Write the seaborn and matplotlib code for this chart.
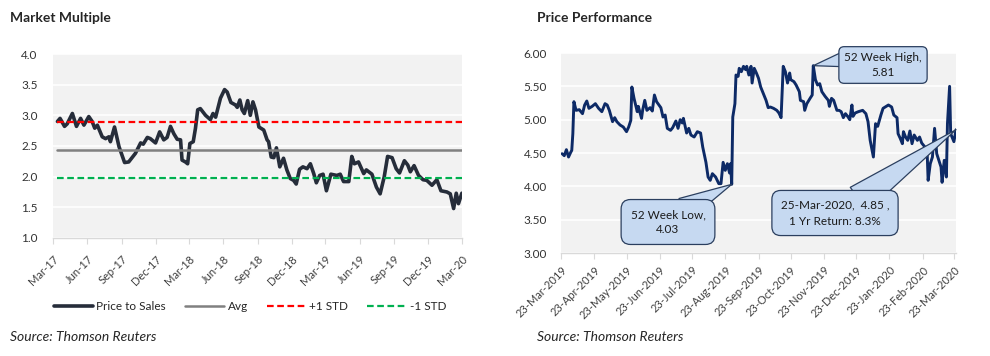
import pandas as pd
import matplotlib
matplotlib.use("Agg")
import matplotlib.pyplot as plt
import matplotlib.dates as mdates
import seaborn as sns

# Market multiple: price to sales, day offsets from 1-Mar-2017
ps_start = "2017-03-01"
ps_days = [12, 19, 31, 38, 52, 63, 74, 83, 96, 105,
           112, 119, 132, 141, 150, 154, 165, 177, 192, 203,
           221, 235, 242, 253, 261, 275, 286, 297, 306, 315,
           324, 333, 342, 346, 355, 361, 367, 376, 382, 388,
           395, 409, 422, 429, 436, 449, 460, 467, 477, 489,
           494, 501, 507, 513, 522, 529, 536, 543, 552, 565,
           574, 578, 585, 592, 599, 608, 618, 627, 636, 645,
           652, 661, 670, 681, 690, 699, 706, 715, 724, 733,
           745, 761, 770, 779, 793, 801, 808, 819, 833, 840,
           855, 867, 877, 888, 897, 909, 920, 929, 942, 951,
           958, 968, 980, 992, 1002, 1016, 1029, 1040, 1056, 1065,
           1074, 1081, 1087, 1096]
ps_vals = [2.90, 2.95, 2.82, 2.86, 3.03, 2.82, 2.95, 2.84, 2.98, 2.90,
           2.79, 2.84, 2.65, 2.62, 2.65, 2.57, 2.81, 2.49, 2.23, 2.24,
           2.38, 2.55, 2.53, 2.64, 2.62, 2.55, 2.73, 2.60, 2.64, 2.82,
           2.70, 2.61, 2.60, 2.27, 2.24, 2.21, 2.54, 2.57, 2.79, 3.09,
           3.11, 3.00, 2.93, 3.03, 2.97, 3.28, 3.42, 3.38, 3.21, 3.17,
           3.13, 3.25, 3.09, 3.03, 3.24, 3.00, 3.22, 3.09, 2.81, 2.76,
           2.60, 2.57, 2.32, 2.31, 2.47, 2.16, 2.30, 2.11, 1.97, 1.94,
           1.88, 2.12, 2.16, 2.13, 2.21, 2.05, 1.90, 2.02, 2.04, 1.77,
           2.04, 2.02, 2.04, 1.92, 1.92, 2.33, 2.21, 2.24, 2.05, 2.11,
           2.04, 1.83, 1.72, 2.00, 2.33, 2.31, 2.13, 2.06, 2.26, 2.19,
           2.08, 2.18, 2.02, 1.95, 1.94, 1.86, 1.95, 1.77, 1.75, 1.72,
           1.48, 1.73, 1.56, 1.73]
ps_avg = 2.43
ps_plus_std = 2.885
ps_minus_std = 1.975

# Price performance, day offsets from 23-Mar-2019
px_start = "2019-03-23"
px_days = [1, 3, 5, 7, 9, 10, 11, 12, 14, 17,
           20, 22, 24, 26, 29, 32, 35, 38, 41, 43,
           45, 48, 50, 52, 55, 58, 61, 63, 65, 66,
           68, 71, 72, 75, 76, 78, 80, 83, 85, 87,
           89, 93, 95, 97, 99, 102, 104, 107, 109, 111,
           113, 114, 117, 119, 121, 124, 127, 130, 132, 135,
           137, 139, 141, 144, 147, 149, 151, 153, 155, 157,
           158, 159, 160, 162, 163, 165, 166, 168, 170, 172,
           173, 175, 177, 178, 180, 182, 184, 186, 189, 191,
           193, 195, 198, 201, 203, 205, 207, 209, 211, 213,
           214, 217, 219, 222, 223, 226, 227, 229, 232, 234,
           235, 237, 239, 241, 243, 246, 249, 250, 252, 254,
           257, 259, 261, 263, 265, 267, 269, 271, 272, 274,
           277, 281, 284, 286, 288, 291, 293, 295, 298, 300,
           303, 305, 308, 310, 313, 314, 316, 318, 319, 321,
           323, 325, 327, 329, 332, 334, 336, 339, 341, 342,
           344, 346, 348, 350, 352, 354, 355, 357, 359, 360,
           362, 363, 366, 368]
px_vals = [4.49, 4.46, 4.55, 4.44, 4.51, 4.54, 4.79, 5.27, 5.14, 5.15,
           5.09, 5.22, 5.28, 5.17, 5.20, 5.24, 5.17, 5.12, 5.24, 5.22,
           5.14, 4.97, 5.03, 4.97, 4.92, 4.89, 4.82, 4.89, 4.99, 5.49,
           5.32, 5.12, 5.20, 5.02, 5.14, 5.29, 5.14, 5.18, 5.13, 5.37,
           5.27, 5.18, 5.04, 5.07, 4.87, 4.84, 4.88, 4.98, 4.87, 5.00,
           4.95, 5.02, 4.80, 4.87, 4.77, 4.74, 4.82, 4.80, 4.59, 4.36,
           4.14, 4.09, 4.19, 4.14, 4.04, 4.04, 4.36, 4.24, 4.34, 4.20,
           4.34, 4.03, 5.04, 5.24, 5.67, 5.65, 5.77, 5.72, 5.80, 5.75,
           5.80, 5.67, 5.80, 5.55, 5.77, 5.70, 5.62, 5.49, 5.37, 5.29,
           5.18, 5.19, 5.17, 5.14, 5.10, 5.03, 5.80, 5.72, 5.55, 5.70,
           5.60, 5.57, 5.52, 5.42, 5.29, 5.27, 5.14, 5.24, 5.32, 5.37,
           5.81, 5.60, 5.52, 5.54, 5.42, 5.35, 5.29, 5.20, 5.32, 5.29,
           5.14, 5.14, 5.12, 5.03, 5.09, 5.05, 5.00, 5.22, 5.05, 5.10,
           5.12, 5.14, 5.09, 4.97, 4.69, 4.44, 4.94, 4.90, 5.07, 5.17,
           5.20, 5.22, 5.19, 5.07, 5.03, 4.79, 4.72, 4.64, 4.82, 4.74,
           4.69, 4.83, 4.64, 4.77, 4.69, 4.74, 4.65, 4.59, 4.54, 4.09,
           4.34, 4.44, 4.87, 4.49, 4.39, 4.29, 4.06, 4.39, 4.14, 4.94,
           5.50, 4.79, 4.67, 4.85]
high_day, high_val = 235, 5.81
low_day, low_val = 159, 4.03
last_day, last_val = 368, 4.85
one_yr_return = "8.3%"

ps = pd.DataFrame({"date": pd.Timestamp(ps_start) + pd.to_timedelta(ps_days, unit="D"),
                   "value": ps_vals})
ps["avg"] = ps_avg
ps["plus"] = ps_plus_std
ps["minus"] = ps_minus_std
px = pd.DataFrame({"date": pd.Timestamp(px_start) + pd.to_timedelta(px_days, unit="D"),
                   "value": px_vals})

sns.set_style("whitegrid", {"axes.facecolor": "#f2f2f2", "grid.color": "white"})
plt.rcParams["font.family"] = ["Lato", "DejaVu Sans"]

fig = plt.figure(figsize=(9.9, 3.56), dpi=100)
ax1 = fig.add_axes([0.0535, 0.3315, 0.413, 0.5168])
ax2 = fig.add_axes([0.5667, 0.2893, 0.399, 0.5618])

# left panel
sns.lineplot(data=ps, x="date", y="value", ax=ax1, color="#262d3a", lw=2.6,
             label="Price to Sales")
sns.lineplot(data=ps, x="date", y="avg", ax=ax1, color="#808080", lw=1.8, label="Avg")
sns.lineplot(data=ps, x="date", y="plus", ax=ax1, color="#ff0000", lw=1.6,
             linestyle=(0, (3, 1.6)), label="+1 STD")
sns.lineplot(data=ps, x="date", y="minus", ax=ax1, color="#00b050", lw=1.6,
             linestyle=(0, (3, 1.6)), label="-1 STD")

ax1.set_xlim(pd.Timestamp("2017-03-01"), pd.Timestamp("2020-03-01"))
ax1.set_ylim(1.0, 4.0)
ax1.set_yticks([1.0, 1.5, 2.0, 2.5, 3.0, 3.5, 4.0])
ax1.yaxis.set_major_formatter(matplotlib.ticker.FormatStrFormatter("%.1f"))
ax1.xaxis.set_major_locator(mdates.MonthLocator(bymonth=[3, 6, 9, 12], bymonthday=1))
ax1.xaxis.set_major_formatter(mdates.DateFormatter("%b-%y"))
ax1.legend(ncol=4, loc="center", bbox_to_anchor=(250 / 990, 1 - 307 / 356),
           bbox_transform=fig.transFigure, frameon=False, fontsize=8.5,
           handlelength=3.3, columnspacing=1.6, handletextpad=0.3)

# right panel
sns.lineplot(data=px, x="date", y="value", ax=ax2, color="#0d2a66", lw=2.1)
ax2.set_xlim(pd.Timestamp("2019-03-23"), pd.Timestamp("2020-03-25"))
ax2.set_ylim(3.0, 6.0)
ax2.set_yticks([3.0, 3.5, 4.0, 4.5, 5.0, 5.5, 6.0])
ax2.yaxis.set_major_formatter(matplotlib.ticker.FormatStrFormatter("%.2f"))
ax2.xaxis.set_major_locator(mdates.MonthLocator(bymonthday=23))
ax2.xaxis.set_major_formatter(mdates.DateFormatter("%d-%b-%Y"))

d0 = pd.Timestamp(px_start)
box = dict(boxstyle="round,pad=0.45", fc="#c6d9f1", ec="#2b3f5f", lw=0.9)
callouts = [
    ("52 Week High,\n%.2f" % high_val, high_day, high_val, (883 / 990, 1 - 65 / 356),
     (0.0, 0.72), 1.3, 0.45, 1.45),
    ("52 Week Low,\n%.2f" % low_val, low_day, low_val, (668 / 990, 1 - 222 / 356),
     (0.72, 1.0), 2.0, 0.8, 1.45),
    ("25-Mar-2020,  %.2f ,\n1 Yr Return: %s" % (last_val, one_yr_return), last_day, last_val,
     (835 / 990, 1 - 213 / 356), (0.72, 1.0), 2.5, 0.75, 1.6),
]
for text, day, val, pos, rel, tw, pad, ls in callouts:
    b = dict(box)
    b["boxstyle"] = "round,pad=%.2f" % pad
    ax2.annotate(text, xy=(d0 + pd.Timedelta(days=day), val), xytext=pos,
                 textcoords="figure fraction", ha="center", va="center",
                 fontsize=8.5, color="#1a1a1a", linespacing=ls, bbox=b,
                 arrowprops=dict(arrowstyle="wedge,tail_width=%.2f" % tw,
                                 fc="#c6d9f1", ec="#2b3f5f", lw=0.9,
                                 relpos=rel, patchA=None, shrinkA=0, shrinkB=0))

for ax, pad_y, pad_x in [(ax1, 11, 7), (ax2, 10, 4)]:
    ax.set_xlabel("")
    ax.set_ylabel("")
    ax.grid(axis="x", visible=False)
    ax.grid(axis="y", color="white", lw=1.2)
    for s in ["left", "top", "right"]:
        ax.spines[s].set_visible(False)
    ax.spines["bottom"].set_color("#d9d9d9")
    ax.spines["bottom"].set_linewidth(1.0)
    ax.tick_params(axis="y", length=0, pad=pad_y, labelsize=8.5, labelcolor="#333333")
    ax.tick_params(axis="x", length=4, color="#d9d9d9", direction="out", pad=pad_x,
                   labelsize=8, labelcolor="#404040", bottom=True)
    for lab in ax.get_xticklabels():
        lab.set_rotation(45)
        lab.set_ha("right")
        lab.set_rotation_mode("anchor")

fig.text(10 / 990, 1 - 18 / 356, "Market Multiple", fontsize=10, fontweight="bold",
         va="center", ha="left")
fig.text(537 / 990, 1 - 18 / 356, "Price Performance", fontsize=10, fontweight="bold",
         va="center", ha="left")
fig.text(10 / 990, 1 - 337 / 356, "Source: Thomson Reuters", fontsize=10,
         style="italic", va="center", ha="left")
fig.text(537 / 990, 1 - 337 / 356, "Source: Thomson Reuters", fontsize=10,
         style="italic", va="center", ha="left")

fig.savefig("out.png", dpi=100, facecolor="white")
